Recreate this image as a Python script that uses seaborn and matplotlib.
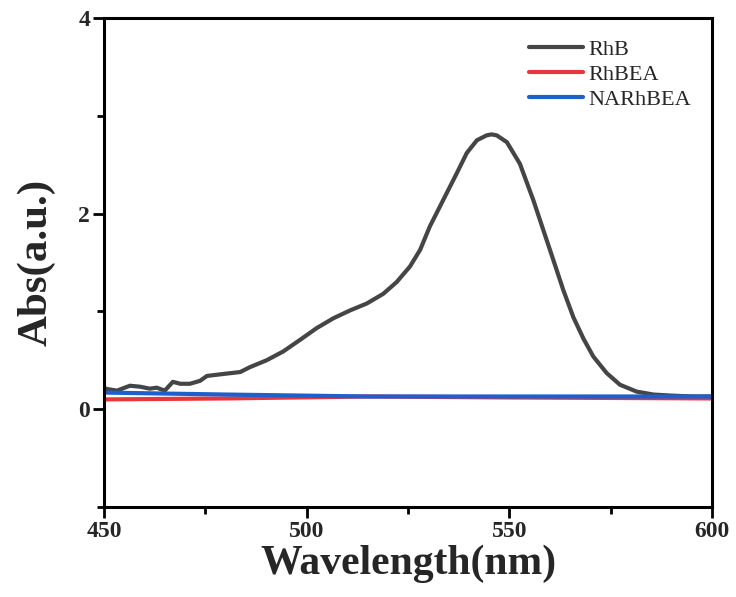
import numpy as np
import pandas as pd
import matplotlib
matplotlib.use("Agg")
import matplotlib.pyplot as plt
import seaborn as sns
from matplotlib.ticker import MultipleLocator

# ---- data ----
rhb_wl = [450, 450.2, 453.2, 456.4, 458.9, 461.3, 463, 465, 467, 468.8, 471.2, 473.7,
          475.4, 479.4, 483.6, 486.0, 490.1, 494.2, 498.4, 502.5, 506.6, 510.7, 514.8,
          518.9, 522.2, 525.5, 528.0, 530.4, 533.7, 537.0, 539.5, 542.0, 544.4, 545.6,
          546.9, 549.4, 552.6, 555.9, 558.4, 560.9, 563.3, 565.8, 568.3, 570.7,
          574.0, 577.3, 581.4, 585.5, 589.6, 595, 600]
rhb_abs = [0.24, 0.21, 0.19, 0.24, 0.23, 0.21, 0.22, 0.19, 0.28, 0.26, 0.26, 0.29,
           0.34, 0.36, 0.38, 0.43, 0.50, 0.59, 0.71, 0.83, 0.93, 1.01, 1.08,
           1.18, 1.30, 1.46, 1.63, 1.87, 2.14, 2.41, 2.62, 2.75, 2.80, 2.81,
           2.80, 2.73, 2.51, 2.14, 1.83, 1.52, 1.22, 0.94, 0.72, 0.54,
           0.37, 0.25, 0.18, 0.15, 0.14, 0.13, 0.13]

flat_wl = [450, 480, 515, 550, 600]
rhbea_abs = [0.10, 0.11, 0.13, 0.12, 0.11]
narhbea_abs = [0.17, 0.15, 0.13, 0.13, 0.13]

labels = ["RhB", "RhBEA", "NARhBEA"]
colors = ["#454545", "#e8363d", "#1f5fcc"]

df = pd.concat([
    pd.DataFrame({"wl": rhb_wl, "abs": rhb_abs, "sample": labels[0]}),
    pd.DataFrame({"wl": flat_wl, "abs": rhbea_abs, "sample": labels[1]}),
    pd.DataFrame({"wl": flat_wl, "abs": narhbea_abs, "sample": labels[2]}),
], ignore_index=True)

sns.set_theme(style="white")
plt.rcParams["font.family"] = ["Liberation Serif", "DejaVu Serif"]

fig = plt.figure(figsize=(7.36, 5.97), dpi=100)
ax = fig.add_axes([104/736, 90/597, 608/736, 489/597])

sns.lineplot(data=df, x="wl", y="abs", hue="sample", hue_order=labels,
             palette=dict(zip(labels, colors)), linewidth=3, ax=ax,
             sort=False, estimator=None)
for ln in ax.get_lines():
    ln.set_solid_joinstyle("round")
    ln.set_solid_capstyle("round")

ax.set_xlim(450, 600)
ax.set_ylim(-1, 4)
ax.xaxis.set_major_locator(MultipleLocator(50))
ax.xaxis.set_minor_locator(MultipleLocator(25))
ax.yaxis.set_major_locator(MultipleLocator(2))
ax.yaxis.set_minor_locator(MultipleLocator(1))

for s in ax.spines.values():
    s.set_visible(True)
    s.set_linewidth(2.2)
    s.set_color("black")

ax.tick_params(axis="both", which="major", direction="out", length=8, width=2,
               bottom=True, left=True, top=False, right=False, color="black",
               labelsize=17, pad=2)
ax.tick_params(axis="both", which="minor", direction="out", length=5, width=2,
               bottom=True, left=True, top=False, right=False, color="black")
for lab in ax.get_xticklabels() + ax.get_yticklabels():
    lab.set_fontweight("bold")

ax.set_xlabel("Wavelength(nm)", fontsize=30, fontweight="bold", labelpad=2)
ax.set_ylabel("Abs(a.u.)", fontsize=31, fontweight="bold", labelpad=16)

leg = ax.legend(loc="upper left", bbox_to_anchor=(0.685, 0.975), frameon=False,
                fontsize=16, handlelength=2.4, handletextpad=0.25, labelspacing=0.2,
                borderaxespad=0)
for line in leg.get_lines():
    line.set_linewidth(3)

fig.savefig("out.png", dpi=100)
